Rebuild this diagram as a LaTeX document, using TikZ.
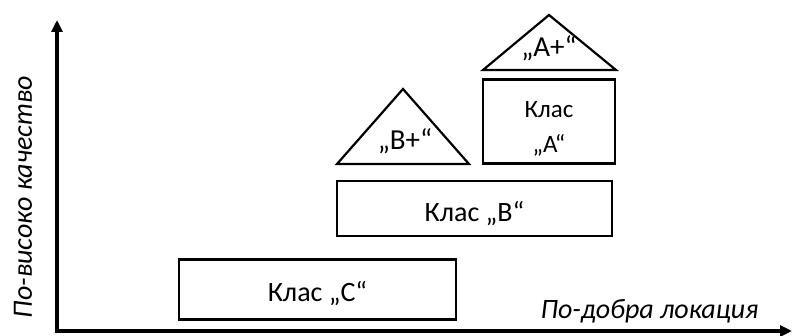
\documentclass[tikz,border=0pt]{standalone}
\usepackage{fontspec}
\setmainfont{Carlito}
\usetikzlibrary{arrows.meta}
\begin{document}
\begin{tikzpicture}[x=1pt,y=-1pt,
  box/.style={draw,line width=2.2pt,inner sep=0pt},
  roof/.style={draw,line width=2.2pt,line join=miter},
  axis/.style={line width=3.2pt,-{Triangle[length=12pt,width=11pt]}},
  lbl/.style={font=\fontsize{28}{32}\selectfont,inner sep=0pt},
  albl/.style={font=\fontsize{25}{29}\selectfont,inner sep=0pt},
  rlbl/.style={font=\fontsize{29}{32}\selectfont,inner sep=0pt},
  axlbl/.style={font=\fontsize{28}{32}\selectfont\itshape}]
\useasboundingbox (0,0) rectangle (792,336);
% axes
\coordinate (o) at (57,331);
\coordinate (ytop) at (57,20);
\coordinate (xend) at (792,331);
\draw[axis] (o) -- (ytop);
\draw[axis] ([xshift=-1.6pt]o) -- (xend);
% boxes
\node[box,minimum width=277pt,minimum height=60pt] (c) at (317.5,289.5) {};
\node[lbl] (ct) at ([yshift=-4pt]c.center) {Клас „С“};
\node[box,minimum width=275pt,minimum height=55pt] (b) at (474.5,208.5) {};
\node[lbl] (bt) at ([yshift=-5pt]b.center) {Клас „В“};
\node[box,minimum width=132pt,minimum height=84pt] (a) at (549,121.5) {};
\node[albl,align=center] (at) at ([yshift=-7pt]a.center) {Клас\\[6pt]„А“};
% roofs
\coordinate (bl) at (337,164); \coordinate (br) at (469,164); \coordinate (btop) at (403,89);
\draw[roof] (bl) -- (btop) -- (br) -- cycle;
\node[rlbl] (bp) at (405,141) {„В+“};
\coordinate (al) at (483,70); \coordinate (ar) at (616,70); \coordinate (atop) at (549,15);
\draw[roof] (al) -- (atop) -- (ar) -- cycle;
\node[rlbl] (ap) at (549,48) {„А+“};
% axis labels
\node[axlbl,rotate=90] (yl) at (23,197) {По-високо качество};
\node[axlbl,anchor=east] (xl) at (762,311) {По-добра локация};
\end{tikzpicture}
\end{document}
